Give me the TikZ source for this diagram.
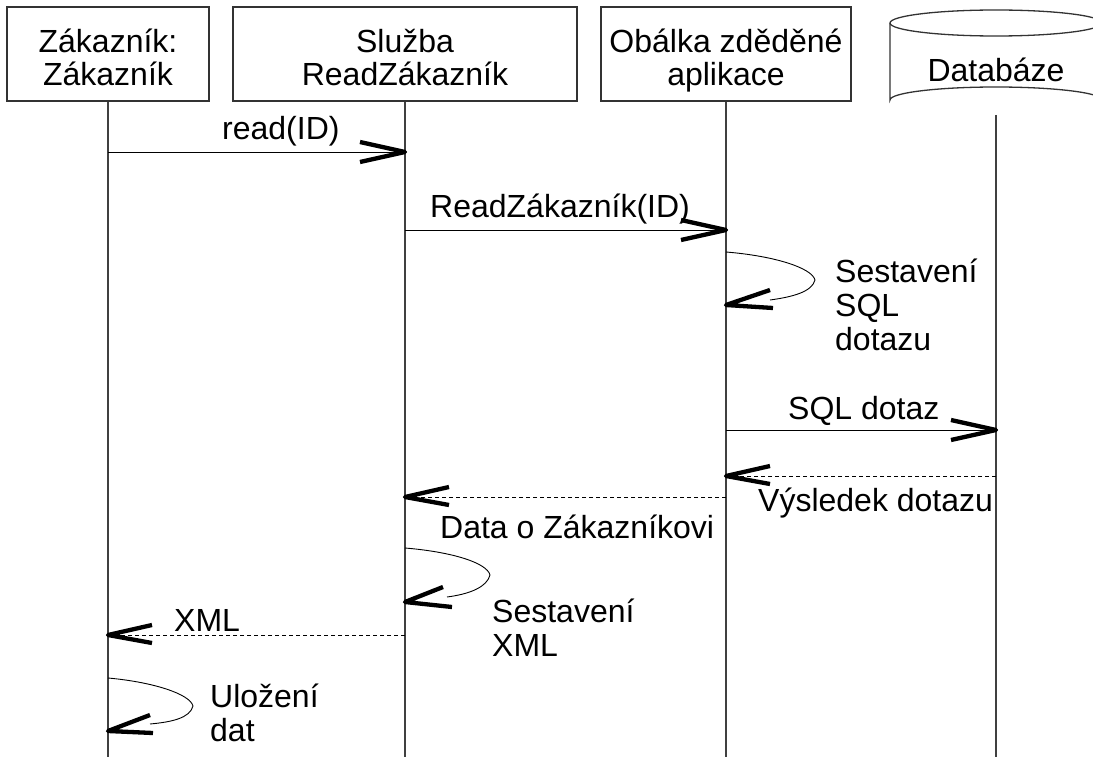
\documentclass[tikz,border=0pt]{standalone}
\usepackage{fontspec}
\setmainfont{Liberation Sans}
\usetikzlibrary{calc}
\tikzset{
  box/.style={draw=black!80, line width=1.3pt, align=center, inner sep=0pt},
  life/.style={draw=black!75, line width=1.2pt},
  msg/.style={draw=black, line width=0.9pt},
  reply/.style={msg, dash pattern=on 4pt off 3pt},
  head/.style={draw=black, line width=4.3pt, line join=round, line cap=butt},
  lbl/.style={anchor=base west, inner sep=0pt, align=left},
}
\newcommand\openhead[3]{\draw[head] ($(#1)+(#2)$) -- (#1) -- ($(#1)+(#3)$);}
\newcommand\topstrut{\rule{0pt}{40pt}}
\newcommand\botstrut{\rule[-9pt]{0pt}{9pt}}
\begin{document}
\begin{tikzpicture}[x=1pt, y=-1pt, font=\fontsize{32}{34}\selectfont]
\useasboundingbox (0,0) rectangle (1093,765);
\begin{scope}
\clip (0,0) rectangle (1093,765);
% participants
\node[box, minimum width=202pt, minimum height=94pt, font=\fontsize{32}{33}\selectfont] (b1) at (108,54) {\topstrut Zákazník:\\Zákazník\botstrut};
\node[box, minimum width=344pt, minimum height=94pt, font=\fontsize{32}{33}\selectfont] (b2) at (405,54) {\topstrut Služba\\ReadZákazník\botstrut};
\node[box, minimum width=250pt, minimum height=94pt, font=\fontsize{32}{33}\selectfont] (b3) at (726,54) {\topstrut Obálka zděděné\\aplikace\botstrut};
\draw[box] (890,23) -- (890,100) arc[start angle=180, end angle=360, x radius=106, y radius=13] -- (1102,23);
\draw[box] (996,23) ellipse[x radius=106, y radius=13];
\node[inner sep=0pt, anchor=base] (b4) at (996,82) {Databáze};
\coordinate (b4b) at (996,115);
% lifeline ends
\coordinate (e1) at (108,757);
\coordinate (e2) at (405,757);
\coordinate (e3) at (726,757);
\coordinate (e4) at (996,757);
\draw[life] (b1.south) -- (e1);
\draw[life] (b2.south) -- (e2);
\draw[life] (b3.south) -- (e3);
\draw[life] (b4b) -- (e4);
% message points
\coordinate (m1a) at (108,152); \coordinate (m1b) at (405,152);
\coordinate (m2a) at (405,230); \coordinate (m2b) at (726,230);
\coordinate (s1a) at (726,252); \coordinate (s1b) at (726,305);
\coordinate (m4a) at (726,430); \coordinate (m4b) at (996,430);
\coordinate (m5a) at (996,476); \coordinate (m5b) at (726,476);
\coordinate (m6a) at (726,497); \coordinate (m6b) at (405,497);
\coordinate (s2a) at (405,548); \coordinate (s2b) at (405,602);
\coordinate (m8a) at (405,635); \coordinate (m8b) at (108,635);
\coordinate (s3a) at (108,678); \coordinate (s3b) at (108,731);
% messages
\draw[msg] (m1a) -- (m1b); \openhead{m1b}{-45,-10}{-45,10}
\node[lbl] (t1) at (222,140) {read(ID)};
\draw[msg] (m2a) -- (m2b); \openhead{m2b}{-45,-10}{-45,10}
\node[lbl] (t2) at (430,218) {ReadZákazník(ID)};
\draw[msg] (s1a) .. controls (775,256) and (812,268) .. (815,280) .. controls (812,292) and (792,297) .. (770,300);
\openhead{s1b}{44,-15}{47,3}
\node[lbl] (t3) at (835,350) {Sestavení\\SQL\\dotazu};
\draw[msg] (m4a) -- (m4b); \openhead{m4b}{-45,-10}{-45,10}
\node[lbl] (t4) at (788,419) {SQL dotaz};
\draw[reply] (m5a) -- (m5b); \openhead{m5b}{44,-10}{44,8}
\node[lbl] (t5) at (758,511) {Výsledek dotazu};
\draw[reply] (m6a) -- (m6b); \openhead{m6b}{44,-10}{44,8}
\node[lbl] (t6) at (440,538) {Data o Zákazníkovi};
\draw[msg] (s2a) .. controls (453,552) and (487,563) .. (490,575) .. controls (487,587) and (470,594) .. (447,597);
\openhead{s2b}{38,-15}{47,5}
\node[lbl] (t7) at (492,656) {Sestavení\\XML};
\draw[reply] (m8a) -- (m8b); \openhead{m8b}{44,-10}{44,8}
\node[lbl] (t8) at (174,631) {XML};
\draw[msg] (s3a) .. controls (153,682) and (190,694) .. (193,706) .. controls (190,718) and (172,722) .. (150,724);
\openhead{s3b}{42,-16}{45,2}
\node[lbl] (t9) at (210,741) {Uložení\\dat};
\end{scope}
\end{tikzpicture}
\end{document}
